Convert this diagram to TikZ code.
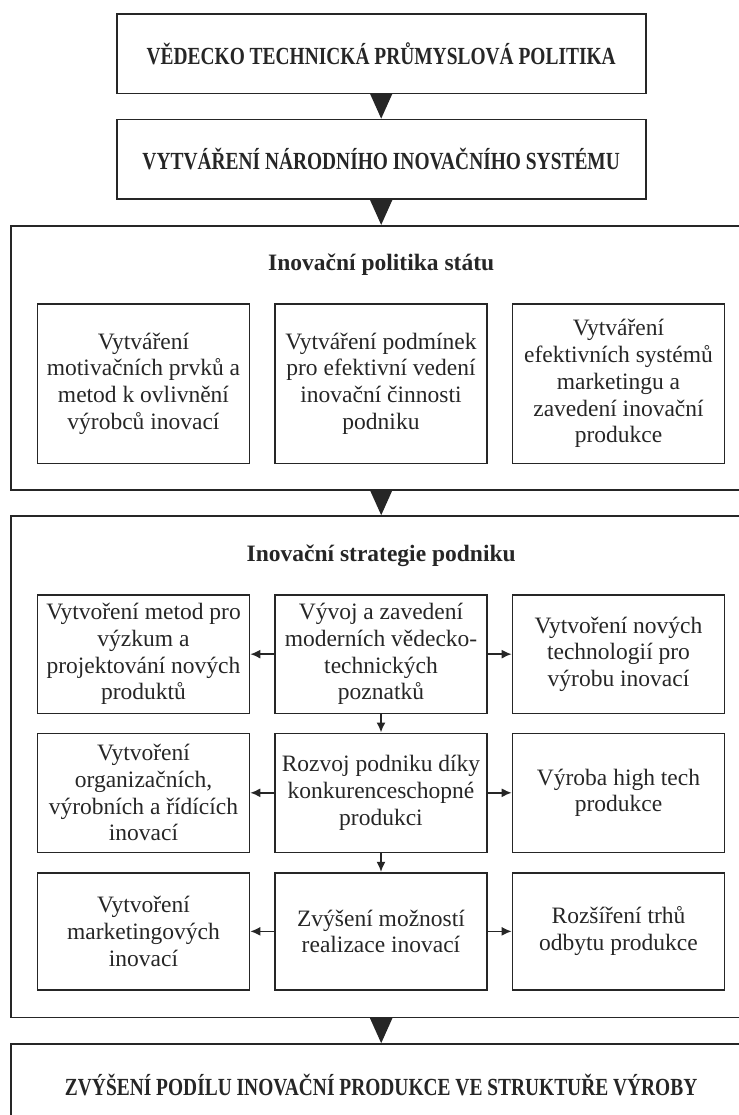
\documentclass[tikz,border=0pt]{standalone}
\usepackage{fontspec}
\setmainfont{Liberation Serif}
\newfontfamily\condfont[FakeStretch=0.79]{Liberation Serif}
\usetikzlibrary{arrows.meta}
\definecolor{ink}{HTML}{262626}
\tikzset{
  box/.style={draw=ink, line width=0.8pt, text=ink, align=center, inner sep=0pt,
    font=\fontsize{11.75pt}{13.35pt}\selectfont},
  capbox/.style={box, minimum width=264.5pt, minimum height=39.7pt,
    font=\condfont\bfseries\fontsize{12.3pt}{14pt}\selectfont},
  bigbox/.style={box, minimum width=370.2pt},
  inbox/.style={box, minimum width=106pt},
  sectitle/.style={text=ink, inner sep=0pt, font=\bfseries\fontsize{11.75pt}{13.35pt}\selectfont},
  bigarrow/.style={draw=ink, line width=0.8pt, -{Triangle[width=11pt,length=12.5pt]}},
  smallarrow/.style={draw=ink, line width=0.8pt, -{Latex[width=4.5pt,length=5pt]}}
}
\begin{document}
\begin{tikzpicture}[x=0.5pt,y=-0.5pt]
\useasboundingbox (0,0) rectangle (739,1115);
\clip (0,0) rectangle (739,1115);
% top boxes
\node[capbox] (top) at (381.2,53.65) {VĚDECKO TECHNICKÁ PRŮMYSLOVÁ POLITIKA};
\node[capbox] (nis) at (381.2,159.15) {VYTVÁŘENÍ NÁRODNÍHO INOVAČNÍHO SYSTÉMU};
% state policy
\node[bigbox, minimum height=132.15pt] (ips) at (381.2,357.85) {};
\node[sectitle] (ipst) at (381.2,265) {Inovační politika státu};
\node[inbox, minimum height=79.65pt] (p1) at (143.5,383.65) {Vytváření\\motivačních prvků a\\metod k ovlivnění\\výrobců inovací};
\node[inbox, minimum height=79.65pt] (p2) at (381,383.65) {Vytváření podmínek\\pro efektivní vedení\\inovační činnosti\\podniku};
\node[inbox, minimum height=79.65pt] (p3) at (618.5,383.65) {Vytváření\\efektivních systémů\\marketingu a\\zavedení inovační\\produkce};
% enterprise strategy
\node[bigbox, minimum height=250.65pt] (isp) at (381.2,766.65) {};
\node[sectitle] (ispt) at (381.2,556) {Inovační strategie podniku};
\node[inbox, minimum height=59.15pt] (a1) at (143.5,654.15) {Vytvoření metod pro\\výzkum a\\projektování nových\\produktů};
\node[inbox, minimum height=59.15pt] (a2) at (381,654.15) {Vývoj a zavedení\\moderních vědecko-\\technických\\poznatků};
\node[inbox, minimum height=59.15pt] (a3) at (618.5,654.15) {Vytvoření nových\\technologií pro\\výrobu inovací};
\node[inbox, minimum height=59.5pt] (b1) at (143.5,792.8) {Vytvoření\\organizačních,\\výrobních a řídících\\inovací};
\node[inbox, minimum height=59.5pt] (b2) at (381,792.8) {Rozvoj podniku díky\\konkurenceschopné\\produkci};
\node[inbox, minimum height=59.5pt] (b3) at (618.5,792.8) {Výroba high tech\\produkce};
\node[inbox, minimum height=58.65pt] (c1) at (143.5,931.35) {Vytvoření\\marketingových\\inovací};
\node[inbox, minimum height=58.65pt] (c2) at (381,931.35) {Zvýšení možností\\realizace inovací};
\node[inbox, minimum height=58.65pt] (c3) at (618.5,931.35) {Rozšíření trhů\\odbytu produkce};
% bottom
\node[capbox, minimum width=370.2pt, minimum height=40.5pt] (bot) at (381.2,1084.5) {ZVÝŠENÍ PODÍLU INOVAČNÍ PRODUKCE VE STRUKTUŘE VÝROBY};
% big arrows
\draw[bigarrow] (top.south) -- (nis.north);
\draw[bigarrow] (nis.south) -- (nis.south |- ips.north);
\draw[bigarrow] (nis.south |- ips.south) -- (nis.south |- isp.north);
\draw[bigarrow] (nis.south |- isp.south) -- (nis.south |- bot.north);
% small arrows
\draw[smallarrow] (a2.west) -- (a1.east);
\draw[smallarrow] (a2.east) -- (a3.west);
\draw[smallarrow] (b2.west) -- (b1.east);
\draw[smallarrow] (b2.east) -- (b3.west);
\draw[smallarrow] (c2.west) -- (c1.east);
\draw[smallarrow] (c2.east) -- (c3.west);
\draw[smallarrow] (a2.south) -- (b2.north);
\draw[smallarrow] (b2.south) -- (c2.north);
\end{tikzpicture}
\end{document}
